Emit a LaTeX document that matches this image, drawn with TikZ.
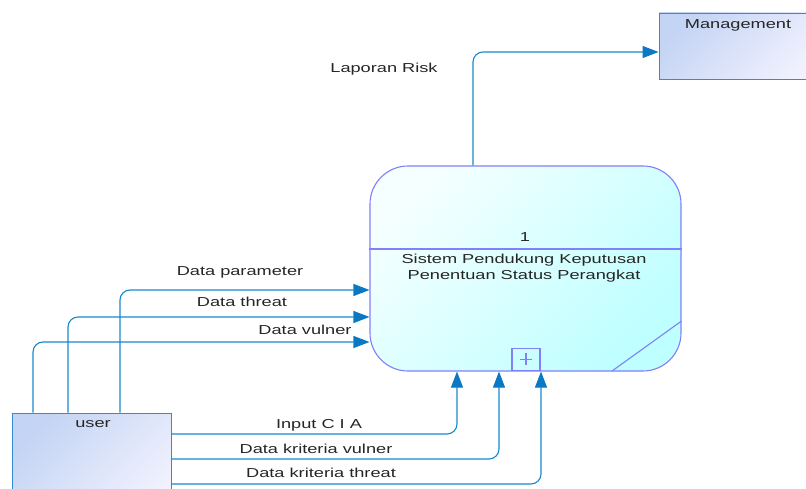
\documentclass[tikz,border=0pt]{standalone}
\usepackage{fontspec}
\setmainfont{Liberation Sans}[FakeStretch=1.4]
\usetikzlibrary{arrows.meta}
\definecolor{flowc}{RGB}{22,136,204}
\definecolor{tipc}{RGB}{10,120,195}
\definecolor{procb}{RGB}{128,128,250}
\definecolor{proctop}{RGB}{245,255,255}
\definecolor{procbot}{RGB}{190,255,255}
\definecolor{entb}{RGB}{50,140,205}
\definecolor{enttop}{RGB}{196,212,244}
\definecolor{entbot}{RGB}{242,242,254}
\tikzset{
  lbl/.style={inner sep=0pt, font=\fontsize{13}{16}\selectfont, text=black!85},
  flow/.style={draw=flowc, line width=1.1pt, rounded corners=10,
    -{Triangle[length=16pt,width=12pt,fill=tipc,color=tipc]}},
  procbox/.style={draw=procb, line width=1.1pt, rounded corners=38,
    top color=proctop, bottom color=procbot, shading angle=45,
    minimum width=311pt, minimum height=205pt, inner sep=0pt},
  entbox/.style={draw=entb, line width=0.9pt, top color=enttop, bottom color=entbot,
    shading angle=45, inner sep=0pt},
}
\begin{document}
\begin{tikzpicture}[x=1pt,y=-1pt]
\useasboundingbox (0,0) rectangle (806,489);
% entities
\node[entbox, minimum width=170pt, minimum height=66pt] (mgmt) at (744,46) {};
\node[lbl] (mgmtlbl) at (738,25) {Management};
\node[entbox, minimum width=159pt, minimum height=110pt] (user) at (91.5,468) {};
\node[lbl] (userlbl) at (93,424) {user};
% process
\node[procbox] (proc) at (525.5,268.5) {};
\draw[procb, line width=1.1pt] (proc.west |- 0,249) -- (proc.east |- 0,249);
\draw[procb, line width=1.1pt] (proc.east |- 0,321) -- (612,371);
\node[lbl] (pnum) at (525,237) {1};
\node[lbl, align=center] (pname) at (524,268) {Sistem Pendukung Keputusan\\Penentuan Status Perangkat};
\node[draw=procb, line width=1.1pt, minimum width=28pt, minimum height=22pt, inner sep=0pt, anchor=south] (plus) at (526,371) {};
\draw[procb, line width=1.1pt] ([xshift=-6]plus.center) -- ([xshift=6]plus.center)
  ([yshift=-6]plus.center) -- ([yshift=6]plus.center);
% flows
\draw[flow] (proc.north -| 473,0) |- ([yshift=-6]mgmt.west);
\draw[flow] (user.north -| 120,0) |- (proc.west |- 0,290);
\draw[flow] (user.north -| 68,0) |- (proc.west |- 0,317);
\draw[flow] (user.north -| 33,0) |- (proc.west |- 0,342);
\draw[flow] (user.east |- 0,434) -| (proc.south -| 457,0);
\draw[flow] (user.east |- 0,459) -| (proc.south -| 499,0);
\draw[flow] (user.east |- 0,484) -| (proc.south -| 541,0);
% labels
\node[lbl] (l1) at (384,69) {Laporan Risk};
\node[lbl] (l2) at (240,272) {Data parameter};
\node[lbl] (l3) at (242,302) {Data threat};
\node[lbl] (l4) at (305,330) {Data vulner};
\node[lbl] (l5) at (319,425) {Input C I A};
\node[lbl] (l6) at (316,449) {Data kriteria vulner};
\node[lbl] (l7) at (321,473) {Data kriteria threat};
\end{tikzpicture}
\end{document}
